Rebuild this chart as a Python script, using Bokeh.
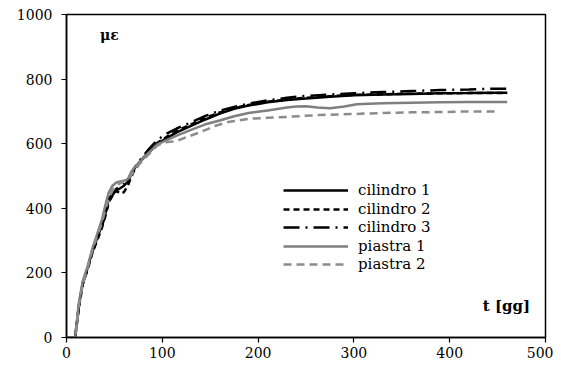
from bokeh.plotting import figure
from bokeh.models import Legend, LegendItem, Label, FixedTicker, Range1d
from bokeh.embed import file_html
from bokeh.resources import INLINE

# ---- data ----
t_c = [0, 5, 9, 13, 17, 22, 27, 32, 37, 41, 44, 48, 52, 56, 60, 64, 68, 72, 77, 85, 95, 105,
       115, 130, 145, 160, 175, 190, 210, 230, 250, 275, 300, 330, 360, 390, 420, 445, 460]
cilindro1 = [0, 0, 0, 100, 170, 215, 268, 308, 348, 388, 428, 445, 455, 462, 470, 482, 508, 528, 545, 570, 600, 618,
             635, 655, 675, 693, 708, 718, 728, 735, 740, 745, 750, 752, 754, 756, 757, 758, 758]
cilindro2 = [0, 0, 0, 95, 165, 210, 262, 300, 340, 380, 418, 440, 455, 445, 450, 470, 500, 525, 545, 572, 603, 622,
             640, 660, 680, 697, 710, 720, 730, 737, 742, 747, 751, 753, 755, 756, 757, 757, 757]
cilindro3 = [0, 0, 0, 98, 168, 212, 265, 305, 345, 385, 420, 440, 460, 470, 475, 485, 510, 530, 550, 580, 612, 632,
             647, 666, 686, 702, 714, 724, 734, 742, 748, 752, 756, 760, 763, 766, 768, 770, 770]
t_p1 = [0, 5, 9, 13, 17, 22, 27, 32, 37, 41, 44, 48, 52, 56, 60, 64, 68, 72, 77, 85, 95, 105, 115, 130, 145,
        160, 175, 190, 210, 230, 240, 250, 262, 275, 290, 303, 330, 360, 390, 420, 445, 460]
piastra1 = [0, 0, 0, 110, 175, 220, 275, 320, 365, 415, 448, 470, 480, 483, 485, 490, 515, 530, 545, 570, 598, 612,
            625, 643, 660, 672, 685, 695, 703, 712, 715, 716, 712, 710, 715, 722, 725, 727, 728, 729, 729, 729]
t_p2 = [0, 5, 9, 13, 17, 22, 27, 32, 37, 41, 44, 48, 52, 56, 60, 64, 68, 72, 77, 85, 95, 105, 115, 125, 140,
        155, 170, 190, 210, 230, 265, 300, 330, 360, 390, 420, 450]
piastra2 = [0, 0, 0, 100, 165, 215, 270, 315, 355, 400, 430, 455, 470, 478, 485, 490, 505, 520, 540, 565, 595, 605,
            608, 620, 636, 655, 668, 677, 680, 683, 689, 692, 695, 697, 698, 700, 700]

x_ticks = [0, 100, 200, 300, 400, 500]
y_ticks = [0, 200, 400, 600, 800, 1000]
names = ["cilindro 1", "cilindro 2", "cilindro 3", "piastra 1", "piastra 2"]

FONT = "DejaVu Serif"

p = figure(width=553, height=362, output_backend="svg", toolbar_location=None,
           x_range=Range1d(0, 500), y_range=Range1d(0, 1000),
           min_border_left=66, min_border_right=8, min_border_top=14, min_border_bottom=25)
p.xgrid.visible = False
p.ygrid.visible = False
p.outline_line_color = "black"
p.outline_line_width = 1.5
p.background_fill_color = "white"
p.border_fill_color = "white"

for ax in (p.xaxis[0], p.yaxis[0]):
    ax.axis_line_color = "black"
    ax.axis_line_width = 1.5
    ax.major_tick_line_color = "black"
    ax.major_tick_line_width = 1.2
    ax.major_tick_out = 5
    ax.major_tick_in = 0
    ax.minor_tick_line_color = None
    ax.major_label_text_font = FONT
    ax.major_label_text_font_size = "14px"
    ax.major_label_text_color = "black"
p.xaxis.ticker = FixedTicker(ticks=x_ticks)
p.yaxis.ticker = FixedTicker(ticks=y_ticks)
p.xaxis.major_label_standoff = 4
p.yaxis.major_label_standoff = 9

r1 = p.line(t_c, cilindro1, line_color="black", line_width=2.5)
r2 = p.line(t_c, cilindro2, line_color="black", line_width=2.5, line_dash="6 4")
r3 = p.line(t_c, cilindro3, line_color="black", line_width=2.5, line_dash="16 6 2 6")
r4 = p.line(t_p1, piastra1, line_color="#7f7f7f", line_width=2.5)
r5 = p.line(t_p2, piastra2, line_color="#8c8c8c", line_width=2.5, line_dash="8 5")

# one legend per entry so the row pitch can match the reference (~18.5 px)
renderers = [r1, r2, r3, r4, r5]
for i, (n, r) in enumerate(zip(names, renderers)):
    lg = Legend(items=[LegendItem(label=n, renderers=[r])],
                location=(217, 64 + (len(names) - 1 - i) * 18.5),
                glyph_width=65, glyph_height=18, label_height=18,
                label_standoff=10, spacing=0, padding=0, margin=0,
                label_text_font=FONT, label_text_font_size="15px", label_text_color="black",
                border_line_alpha=0, background_fill_alpha=0)
    p.add_layout(lg, "center")

p.add_layout(Label(x=35, y=938, text="με", text_font=FONT, text_font_style="bold",
                   text_font_size="14px", text_baseline="middle", text_color="black"))
p.add_layout(Label(x=484, y=99, text="t [gg]", text_font=FONT, text_font_style="bold",
                   text_font_size="15px", text_baseline="middle", text_align="right", text_color="black"))

open("out.html", "w").write(file_html(p, INLINE))
